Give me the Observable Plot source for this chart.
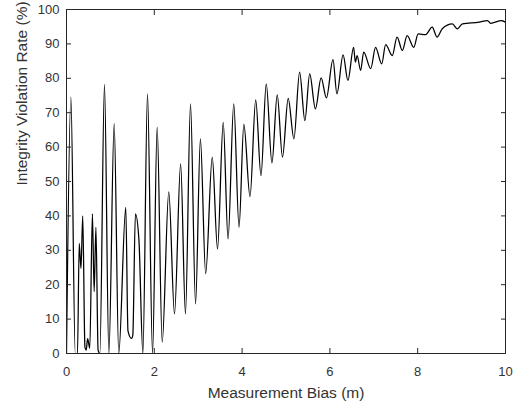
<!DOCTYPE html>
<html>
<head>
<meta charset="utf-8">
<script src="https://cdn.jsdelivr.net/npm/d3@7"></script>
<script src="https://cdn.jsdelivr.net/npm/@observablehq/plot@0.6"></script>
<style>
  html, body { margin: 0; padding: 0; background: #fff; }
</style>
</head>
<body>
<div id="chart"></div>
<script>
const biasM = [
  0, 0.10, 0.20, 0.25, 0.29, 0.33, 0.37, 0.42, 0.45, 0.48, 0.53, 0.59, 0.63, 0.67, 0.72, 0.76,
  0.865, 0.965, 1.086, 1.19, 1.35, 1.40, 1.48, 1.51, 1.57, 1.65, 1.74, 1.845, 1.96, 2.065, 2.18,
  2.33, 2.46, 2.60, 2.71, 2.825, 2.94, 3.05, 3.17, 3.32, 3.44, 3.57, 3.68, 3.81, 3.93, 4.04, 4.18,
  4.31, 4.43, 4.55, 4.68, 4.80, 4.92, 5.05, 5.18, 5.31, 5.43, 5.54, 5.67, 5.80, 5.92, 6.07, 6.16,
  6.30, 6.41, 6.54, 6.58, 6.62, 6.70, 6.77, 6.93, 7.04, 7.18, 7.27, 7.42, 7.53, 7.65, 7.76, 7.91,
  8.01, 8.18, 8.33, 8.44, 8.56, 8.79, 8.90, 9.02, 9.40, 9.59, 9.66, 9.91, 10
];
const violationRate = [
  0, 74.5, 0, 0, 32, 24.7, 40, 1.8, 1, 4.3, 1.5, 40.6, 18, 36.7, 1, 0,
  78.2, 0, 66.8, 0, 42.5, 6.6, 4.4, 5.3, 40.6, 33, 0, 75.5, 0, 65.8, 3.3,
  47, 11.5, 55.1, 11.5, 72.6, 14.4, 62.4, 23.2, 57.1, 30.4, 67.2, 33.3, 72.6, 36.7, 66.6, 45.6,
  73.7, 51.7, 78.4, 55.4, 75.2, 57.1, 74.2, 62.4, 81.8, 67.7, 81.3, 71.1, 80.1, 74.3, 85.4, 75.5,
  86.8, 79.4, 89.0, 84.7, 86.6, 82.3, 87.6, 82.8, 89.0, 84.2, 89.8, 86.6, 92.0, 88.1, 92.4, 89.0,
  92.9, 92.7, 94.9, 92.0, 94.4, 95.8, 94.4, 95.8, 96.3, 96.8, 96.0, 96.8, 96.3
];
const xTicks = [0, 2, 4, 6, 8, 10];
const yTicks = [0, 10, 20, 30, 40, 50, 60, 70, 80, 90, 100];
const xLabel = "Measurement Bias (m)";
const yLabel = "Integrity Violation Rate (%)";

const data = biasM.map((x, i) => ({x, y: violationRate[i]}));
const axisColor = "#262626";
const textColor = "#333333";

const chart = Plot.plot({
  width: 518,
  height: 404,
  marginLeft: 66,
  marginRight: 13,
  marginTop: 9,
  marginBottom: 51,
  style: {fontFamily: "'Liberation Sans', Arial, sans-serif", color: axisColor, background: "#fff"},
  x: {domain: [0, 10]},
  y: {domain: [0, 100]},
  marks: [
    Plot.line(data, {x: "x", y: "y", stroke: "#000", strokeWidth: 1.25, curve: "monotone-x", clip: true}),
    Plot.frame({stroke: axisColor, strokeWidth: 1}),
    Plot.axisX({anchor: "bottom", ticks: xTicks, tickSize: -5, text: null, label: null, stroke: axisColor}),
    Plot.axisX({anchor: "top", ticks: xTicks, tickSize: -5, text: null, label: null, stroke: axisColor}),
    Plot.axisY({anchor: "left", ticks: yTicks, tickSize: -5, text: null, label: null, stroke: axisColor}),
    Plot.axisY({anchor: "right", ticks: yTicks, tickSize: -5, text: null, label: null, stroke: axisColor}),
    Plot.axisX({anchor: "bottom", ticks: xTicks, tickSize: 0, tickPadding: 13.5, fontSize: 13, fill: textColor, label: null}),
    Plot.axisY({anchor: "left", ticks: yTicks, tickSize: 0, tickPadding: 7, fontSize: 13, fill: textColor, label: null}),
    Plot.text([xLabel], {frameAnchor: "bottom", dy: 40, fontSize: 15.5, fill: textColor, lineAnchor: "middle"}),
    Plot.text([yLabel], {frameAnchor: "left", dx: -44, dy: 4, rotate: -90, fontSize: 15.5, fill: textColor, lineAnchor: "middle"})
  ]
});
document.getElementById("chart").appendChild(chart);
</script>
</body>
</html>
